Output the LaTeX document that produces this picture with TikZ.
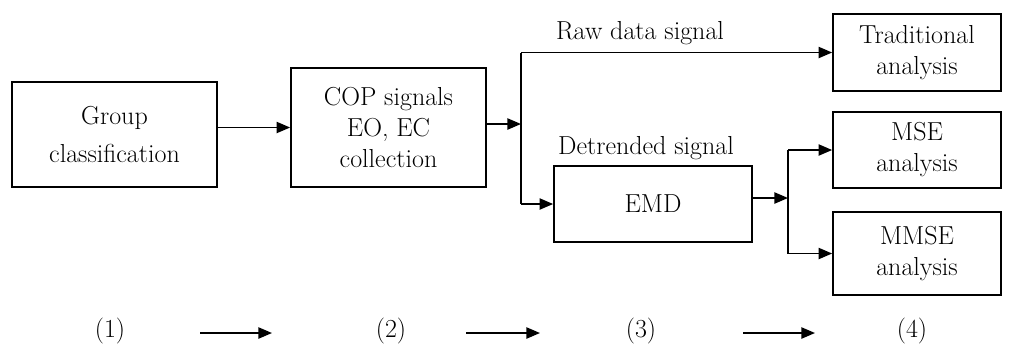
\documentclass[tikz,border=0pt]{standalone}
\usepackage{amsmath, amssymb}
\usepackage{xcolor}
\usepackage{tikz}
\usetikzlibrary{arrows.meta}

\begin{document}
\begin{tikzpicture}[x=0.025cm, y=-0.025cm, line width=1.2pt,
        font=\fontsize{18.5}{22}\selectfont,
        box/.style={rectangle, draw, align=center, inner sep=2pt},
        lbl/.style={inner sep=1pt},
        arr/.style={-{Triangle[length=3.4mm, width=2.8mm]}}]
        \useasboundingbox (0,0) rectangle (1016,345);

        \node[box, minimum width=5.125cm, minimum height=2.625cm] (G) at (114.5,134.5) {Group\\[0.2cm]classification};
        \node[box, minimum width=4.875cm, minimum height=2.975cm] (C) at (388.5,127.5) {COP signals\\EO, EC\\collection};
        \node[box, minimum width=4.95cm, minimum height=1.9cm] (E) at (653,204) {EMD};
        \node[box, minimum width=4.2cm, minimum height=1.925cm] (T) at (917,52.5) {Traditional\\analysis};
        \node[box, minimum width=4.2cm, minimum height=1.9cm] (M) at (917,150) {MSE\\analysis};
        \node[box, minimum width=4.2cm, minimum height=2.075cm] (MM) at (917,253.5) {MMSE\\analysis};

        \node[lbl] (R) at (640,33) {Raw data signal};
        \node[lbl] (D) at (646,148) {Detrended signal};

        \node[lbl] (s1) at (110,331) {(1)};
        \node[lbl] (s2) at (391,331) {(2)};
        \node[lbl] (s3) at (641,331) {(3)};
        \node[lbl] (s4) at (912,331) {(4)};

        \coordinate (p1) at (521,124);
        \coordinate (p2) at (788,198);
        \coordinate (a1) at (200,333);
        \coordinate (b1) at (272,333);
        \coordinate (a2) at (466,333);
        \coordinate (b2) at (540,333);
        \coordinate (a3) at (743,333);
        \coordinate (b3) at (815,333);

        \draw[arr] (G.east |- C.west) -- (C.west);
        \draw[arr] (C.east |- p1) -- (p1);
        \draw (p1 |- T.west) -- (p1 |- E.west);
        \draw[arr] (p1 |- T.west) -- (T.west);
        \draw[arr] (p1 |- E.west) -- (E.west);
        \draw[arr] (E.east |- p2) -- (p2);
        \draw (p2 |- M.west) -- (p2 |- MM.west);
        \draw[arr] (p2 |- M.west) -- (M.west);
        \draw[arr] (p2 |- MM.west) -- (MM.west);

        \draw[arr] (a1) -- (b1);
        \draw[arr] (a2) -- (b2);
        \draw[arr] (a3) -- (b3);
    \end{tikzpicture}
\end{document}
